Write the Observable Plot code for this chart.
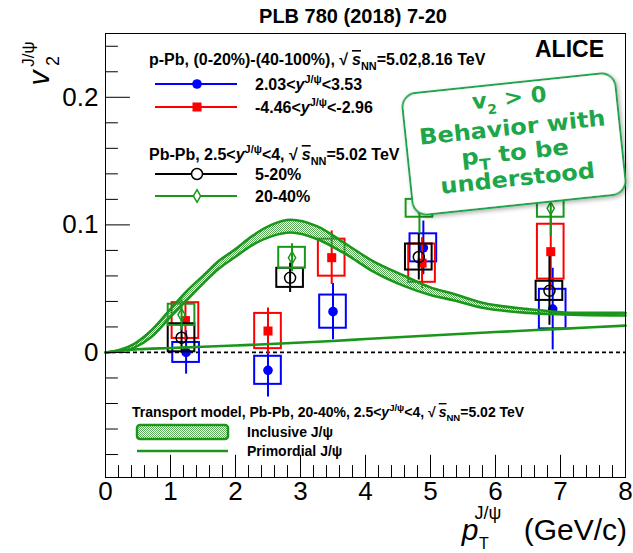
<!DOCTYPE html>
<html><head><meta charset="utf-8">
<script src="https://cdn.jsdelivr.net/npm/d3@7"></script>
<script src="https://cdn.jsdelivr.net/npm/@observablehq/plot@0.6"></script>
<style>body{margin:0;background:#fff;}</style>
</head><body><div id="chart"></div>
<script>
const FONT = '"Liberation Sans", Arial, Helvetica, sans-serif';

// ---- data: p-Pb forward 2.03<y<3.53 (blue, filled circle)
const fwdPt   = [1.24, 2.50, 3.50, 4.89, 6.88];
const fwdV2   = [0.000, -0.014, 0.032, 0.082, 0.034];
const fwdStat = [0.017, 0.021, 0.022, 0.021, 0.032];
const fwdSys  = [0.0078, 0.011, 0.013, 0.011, 0.0155];
// p-Pb backward -4.46<y<-2.96 (red, filled square)
const bwdPt   = [1.23, 2.50, 3.48, 4.87, 6.85];
const bwdV2   = [0.025, 0.0168, 0.0743, 0.070, 0.079];
const bwdStat = [0.016, 0.018, 0.021, 0.020, 0.030];
const bwdSys  = [0.014, 0.0138, 0.0145, 0.015, 0.0215];
// Pb-Pb 5-20% (black, open circle)
const cen1Pt   = [1.17, 2.84, 4.82, 6.83];
const cen1V2   = [0.0115, 0.0585, 0.0748, 0.0483];
const cen1Stat = [0.012, 0.0115, 0.018, 0.027];
const cen1Sys  = [0.011, 0.0075, 0.0102, 0.0075];
// Pb-Pb 20-40% (green, open diamond)
const cen2Pt   = [1.17, 2.87, 4.83, 6.85];
const cen2V2   = [0.0295, 0.0742, 0.113, 0.113];
const cen2Stat = [0.012, 0.011, 0.020, 0.022];
const cen2Sys  = [0.0083, 0.0082, 0.007, 0.007];
// Transport model (inclusive band, primordial line)
const modelPt = [0, 0.2, 0.45, 0.7, 1.0, 1.25, 1.5, 1.75, 2.0, 2.25, 2.55, 2.85, 3.25, 3.7, 4.1, 4.6, 5.0, 5.35, 5.8, 6.5, 7.3, 8.0];
const inclLow  = [0, 0.0008, 0.004, 0.012, 0.028, 0.041, 0.054, 0.066, 0.075, 0.084, 0.091, 0.094, 0.089, 0.077, 0.064, 0.052, 0.045, 0.041, 0.035, 0.031, 0.0295, 0.029];
const inclHigh = [0, 0.0018, 0.007, 0.017, 0.034, 0.048, 0.060, 0.072, 0.081, 0.091, 0.100, 0.104, 0.099, 0.085, 0.072, 0.060, 0.051, 0.046, 0.039, 0.034, 0.031, 0.031];
const primPt = [0, 0.25, 0.5, 1.0, 1.5, 2.0, 2.7, 3.5, 4.0, 5.0, 6.0, 7.0, 8.0];
const primV2 = [0, 0.0015, 0.0025, 0.0035, 0.0045, 0.0055, 0.007, 0.009, 0.0105, 0.0133, 0.016, 0.0185, 0.021];
// axes
const xTickLabels = [0, 1, 2, 3, 4, 5, 6, 7, 8];
const yTickLabels = [0, 0.1, 0.2];
const xMinorTicks = d3.range(0, 8.001, 0.2);
const yMinorTicks = d3.range(-0.08, 0.2401, 0.02);

const yMin = -0.098, yMax = 0.25;
const green = "#1a961a";
const boxHalf = 0.205;

const series = (pt, v, st, sy) => pt.map((p, i) => ({pt: p, v: v[i], stat: st[i], sys: sy[i]}));
const fwd = series(fwdPt, fwdV2, fwdStat, fwdSys);
const bwd = series(bwdPt, bwdV2, bwdStat, bwdSys);
const cen1 = series(cen1Pt, cen1V2, cen1Stat, cen1Sys);
const cen2 = series(cen2Pt, cen2V2, cen2Stat, cen2Sys);
const model = modelPt.map((p, i) => ({pt: p, lo: inclLow[i], hi: inclHigh[i]}));
const prim = primPt.map((p, i) => ({pt: p, v: primV2[i]}));

function seriesMarks(data, color, symbol, filled, r) {
  return [
    Plot.rect(data, {x1: d => d.pt - boxHalf, x2: d => d.pt + boxHalf, y1: d => d.v - d.sys, y2: d => d.v + d.sys,
      fill: "none", stroke: color, strokeWidth: 2}),
    Plot.ruleX(data, {x: "pt", y1: d => d.v - d.stat, y2: d => d.v + d.stat, stroke: color, strokeWidth: 2}),
    Plot.dot(data, {x: "pt", y: "v", symbol, r, fill: filled ? color : "none", stroke: filled ? "none" : color, strokeWidth: 1.5})
  ];
}
const tickShape = {draw(ctx, l) { ctx.moveTo(0, 0); ctx.lineTo(0, -l); }};

const chart = Plot.plot({
  width: 633, height: 553,
  marginLeft: 105, marginRight: 8, marginTop: 33, marginBottom: 76,
  style: {fontFamily: FONT, background: "white", overflow: "visible", color: "black"},
  x: {domain: [0, 8]},
  y: {domain: [yMin, yMax]},
  marks: [
    Plot.ruleY([0], {stroke: "black", strokeWidth: 1.8, strokeDasharray: "4,3"}),
    ...seriesMarks(fwd, "#0000ff", "circle", true, 4.8),
    ...seriesMarks(bwd, "#ff0000", "square", true, 5.1),
    ...seriesMarks(cen1, "black", "circle", false, 5.5),
    ...seriesMarks(cen2, green, "diamond", false, 3.8),
    Plot.areaY(model, {x: "pt", y1: "lo", y2: "hi", fill: "url(#stip)", curve: "monotone-x"}),
    Plot.line(model, {x: "pt", y: "lo", stroke: green, strokeWidth: 2.6, curve: "monotone-x"}),
    Plot.line(model, {x: "pt", y: "hi", stroke: green, strokeWidth: 2.6, curve: "monotone-x"}),
    Plot.line(prim, {x: "pt", y: "v", stroke: green, strokeWidth: 2.6, curve: "monotone-x"}),
    Plot.frame({stroke: "black", strokeWidth: 1}),
    Plot.vector(xMinorTicks, {x: d => d, y: yMin, length: d => Math.abs(d - Math.round(d)) < 1e-6 ? 13 : 7, rotate: 0, anchor: "start", shape: tickShape, stroke: "black", strokeWidth: 1}),
    Plot.vector(yMinorTicks, {x: 0, y: d => d, length: d => Math.abs(d * 10 - Math.round(d * 10)) < 1e-6 ? 14 : 7, rotate: 90, anchor: "start", shape: tickShape, stroke: "black", strokeWidth: 1}),
    Plot.axisX({ticks: xTickLabels, tickSize: 0, tickPadding: 4, fontSize: 26, tickFormat: d => String(d), label: null}),
    Plot.axisY({ticks: yTickLabels, tickSize: 0, tickPadding: 7, fontSize: 26, tickFormat: d => d === 0 ? "0" : d.toFixed(1), label: null})
  ]
});
document.getElementById("chart").appendChild(chart);

const svg = d3.select(chart);
const defs = svg.insert("defs", ":first-child");
const pat = defs.append("pattern").attr("id", "stip").attr("width", 2).attr("height", 2).attr("patternUnits", "userSpaceOnUse");
pat.append("rect").attr("x", 0).attr("y", 0).attr("width", 1).attr("height", 1).attr("fill", "#5aaa5a");
pat.append("rect").attr("x", 1).attr("y", 1).attr("width", 1).attr("height", 1).attr("fill", "#5aaa5a");
const flt = defs.append("filter").attr("id", "shadow").attr("x", "-10%").attr("y", "-10%").attr("width", "130%").attr("height", "130%");
flt.append("feDropShadow").attr("dx", 1.5).attr("dy", 2).attr("stdDeviation", 2).attr("flood-color", "#000").attr("flood-opacity", 0.3);

function richText(g, x, y, parts, o = {}) {
  const size = o.size || 15;
  const t = g.append("text").attr("x", x).attr("y", y)
    .attr("font-size", size).attr("font-weight", o.weight || "bold")
    .attr("text-anchor", o.anchor || "start").attr("fill", o.fill || "black")
    .style("font-family", o.family || FONT);
  if (o.transform) t.attr("transform", o.transform);
  let shift = 0;
  for (const p of parts) {
    const part = typeof p === "string" ? {t: p} : p;
    const target = part.sup ? -0.42 * size : part.sub ? 0.3 * size : 0;
    const ts = t.append("tspan").text(part.t).attr("dy", target - shift);
    if (part.dx) ts.attr("dx", part.dx);
    shift = target;
    if (part.sup || part.sub) ts.attr("font-size", size * (part.scale || 0.68));
    if (part.i) ts.attr("font-style", "italic");
    if (part.over) ts.style("text-decoration", "overline");
  }
  return t;
}

// title + ALICE
richText(svg, 353, 23, ["PLB 780 (2018) 7-20"], {size: 20, anchor: "middle"});
richText(svg, 604, 57, ["ALICE"], {size: 23, anchor: "end"});

// axis titles
svg.append("text").attr("x", 627).attr("y", 540).attr("text-anchor", "end").attr("font-size", 30).style("font-family", FONT).text(" (GeV/c)");
svg.append("text").attr("x", 470).attr("y", 540).attr("font-size", 30).attr("font-style", "italic").style("font-family", FONT).text("p");
svg.append("text").attr("x", 488).attr("y", 519).attr("font-size", 18).style("font-family", FONT).text("J/ψ");
svg.append("text").attr("x", 484).attr("y", 549).attr("font-size", 16).style("font-family", FONT).text("T");
svg.append("text").attr("transform", "translate(48.5,78) rotate(-90)").attr("font-size", 30).attr("font-style", "italic").style("font-family", FONT).text("v");
svg.append("text").attr("transform", "translate(59,61) rotate(-90)").attr("font-size", 18).style("font-family", FONT).text("2");
svg.append("text").attr("transform", "translate(33.5,54) rotate(-90)").attr("font-size", 17).style("font-family", FONT).text("J/ψ");

// legend (data)
const leg = svg.append("g");
const LS = 16;
richText(leg, 149, 65, ["p-Pb, (0-20%)-(40-100%), √", {t: "s", i: true, over: true, dx: 4}, {t: "NN", sub: true}, "=5.02,8.16 TeV"], {size: LS});
richText(leg, 149, 160, ["Pb-Pb, 2.5<", {t: "y", i: true}, {t: "J/ψ", sup: true}, "<4, √", {t: "s", i: true, over: true, dx: 4}, {t: "NN", sub: true}, "=5.02 TeV"], {size: LS});
const legRows = [
  {y: 84, color: "#0000ff", type: d3.symbolCircle, r: 4.8, filled: true, parts: ["2.03<", {t: "y", i: true}, {t: "J/ψ", sup: true}, "<3.53"]},
  {y: 107, color: "#ff0000", type: d3.symbolSquare, r: 5.1, filled: true, parts: ["-4.46<", {t: "y", i: true}, {t: "J/ψ", sup: true}, "<-2.96"]},
  {y: 174, color: "black", type: d3.symbolCircle, r: 5.5, filled: false, parts: ["5-20%"]},
  {y: 196, color: green, type: d3.symbolDiamond, r: 3.8, filled: false, parts: ["20-40%"]}
];
for (const row of legRows) {
  leg.append("line").attr("x1", 155).attr("x2", 237).attr("y1", row.y).attr("y2", row.y).attr("stroke", row.color).attr("stroke-width", 2);
  leg.append("path").attr("transform", `translate(197,${row.y})`)
    .attr("d", d3.symbol().type(row.type).size(Math.PI * row.r * row.r)())
    .attr("fill", row.filled ? row.color : "white").attr("stroke", row.filled ? "none" : row.color).attr("stroke-width", 1.5);
  richText(leg, 255, row.y + 5.5, row.parts, {size: LS});
}

// legend (model)
richText(leg, 132, 417, ["Transport model, Pb-Pb, 20-40%, 2.5<", {t: "y", i: true}, {t: "J/ψ", sup: true}, "<4, √", {t: "s", i: true, over: true, dx: 3}, {t: "NN", sub: true}, "=5.02 TeV"], {size: 14});
leg.append("rect").attr("x", 137).attr("y", 425).attr("width", 91).attr("height", 14).attr("rx", 3)
  .attr("fill", "url(#stip)").attr("stroke", green).attr("stroke-width", 2.5);
richText(leg, 247, 437, ["Inclusive J/ψ"], {size: 14});
leg.append("line").attr("x1", 137).attr("x2", 228).attr("y1", 451).attr("y2", 451).attr("stroke", green).attr("stroke-width", 2.6);
richText(leg, 247, 456, ["Primordial J/ψ"], {size: 14});

// handwritten note
const noteGreen = "#1ea64a";
const note = svg.append("g").attr("transform", "translate(514,144) rotate(-6)");
note.append("rect").attr("x", -107).attr("y", -61).attr("width", 214).attr("height", 122).attr("rx", 14)
  .attr("fill", "white").attr("stroke", noteGreen).attr("stroke-width", 2).attr("filter", "url(#shadow)");
const noteLines = [
  {y: -39, w: 75, parts: ["v", {t: "2", sub: true, scale: 0.6}, " > 0"]},
  {y: -9, w: 187, parts: ["Behavior with"]},
  {y: 16, w: 108, parts: ["p", {t: "T", sub: true, scale: 0.7}, " to be"]},
  {y: 42, w: 155, parts: ["understood"]}
];
for (const ln of noteLines) {
  richText(note, 0, ln.y, ln.parts, {size: 22, anchor: "middle", fill: noteGreen, family: '"DejaVu Sans", sans-serif'})
    .attr("textLength", ln.w).attr("lengthAdjust", "spacingAndGlyphs");
}
</script>
</body></html>
